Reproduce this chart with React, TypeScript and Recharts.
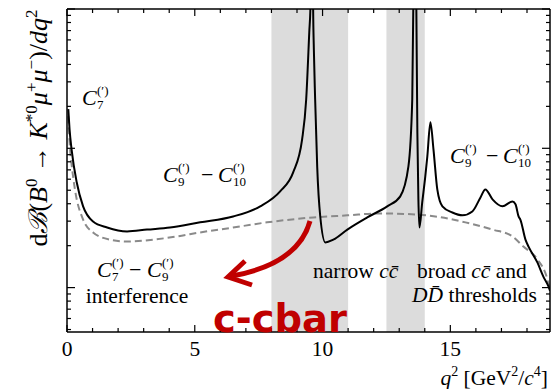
import { LineChart, Line, XAxis, YAxis, ReferenceArea } from "recharts";

// full prediction (solid black)
const totalQ2 = [
  0.05, 0.1, 0.18, 0.38, 0.63, 1.02, 1.57, 2.35, 3.13, 4.03, 5.21, 6.5, 7.56, 8.34, 8.85, 9.2, 9.36,
  9.48, 9.53, 9.58, 9.63, 9.66, 9.71, 9.79, 9.91, 10.11, 10.42, 10.97, 11.75, 12.53, 13.04, 13.36,
  13.51, 13.55, 13.61, 13.67, 13.71, 13.75, 13.79, 13.9, 14.02, 14.1, 14.22, 14.34, 14.49, 14.69,
  15.08, 15.47, 15.86, 16.18, 16.37, 16.65, 17.04, 17.43, 17.55, 17.67, 17.74, 17.94, 18.06, 18.41,
  18.64, 18.84, 18.9,
];
const totalRate = [
  19.1, 13.7, 9.8, 5.7, 3.83, 2.98, 2.7, 2.53, 2.61, 2.7, 2.94, 3.24, 3.83, 4.91, 6.72, 11.6, 22.5,
  68, 110, 50000, 110, 51, 22.5, 7.42, 3.24, 2.11, 2.21, 2.61, 3.19, 3.83, 4.52, 7.42,
  22.5, 100, 50000, 100, 13, 4.3, 2.7, 4.09, 6.29, 8.76, 15.4, 9.84, 5.07, 3.83,
  3.46, 3.3, 3.52, 4.44, 5.07, 4.3, 3.83, 4.15, 3.96, 3.24, 3.08, 2.21, 1.97, 1.51,
  1.2, 1.02, 0.95,
];

// short-distance only (dashed grey)
const sdQ2 = [
  0.05, 0.12, 0.18, 0.31, 0.63, 1.02, 1.68, 2.35, 3.37, 4.31, 5.21, 6.5, 7.83, 9.64, 10.97, 12.26,
  13.63, 14.41, 15.59, 16.65, 17.43, 17.86, 18.41, 18.8, 18.9,
];
const sdRate = [
  17, 9.8, 7.67, 5.07, 3.08, 2.49, 2.21, 2.14, 2.21, 2.33, 2.49, 2.7, 2.94, 3.19, 3.3, 3.41,
  3.35, 3.24, 2.94, 2.61, 2.33, 1.97, 1.59, 1.14, 0.95,
];

// shaded charmonium windows
const bands = [
  [8, 11],
  [12.5, 14],
];

const xTicks = Array.from({ length: 19 }, (_, i) => i);
const yTicks = [0.5, 0.6, 0.7, 0.8, 0.9, 1, 2, 3, 4, 5, 6, 7, 8, 9, 10, 20, 30, 40, 50, 60, 70, 80, 90, 100];

const SERIF = '"Liberation Serif", "Times New Roman", "DejaVu Serif", serif';
const RED = "#c00000";
const serif = { fontFamily: SERIF };

const totalData = totalQ2.map((q2, i) => ({ q2, rate: totalRate[i] }));
const sdData = sdQ2.map((q2, i) => ({ q2, rate: sdRate[i] }));

const isDecade = (v: number) => Math.abs(Math.log10(v) - Math.round(Math.log10(v))) < 1e-6;

const BottomTick = (props: any) => {
  const { x, y, payload } = props;
  const major = payload.value % 5 === 0;
  return (
    <g>
      <line x1={x} x2={x} y1={y} y2={y - (major ? 7 : 4)} stroke="#000" strokeWidth={1.2} />
      {major && (
        <text x={x} y={y + 24} textAnchor="middle" fontSize={21.5} style={serif} fill="#000">
          {payload.value}
        </text>
      )}
    </g>
  );
};

const TopTick = (props: any) => {
  const { x, y, payload } = props;
  const major = payload.value % 5 === 0;
  return <line x1={x} x2={x} y1={y} y2={y + (major ? 7 : 4)} stroke="#000" strokeWidth={1.2} />;
};

const LeftTick = (props: any) => {
  const { x, y, payload } = props;
  return <line x1={x} x2={x + (isDecade(payload.value) ? 8 : 4)} y1={y} y2={y} stroke="#000" strokeWidth={1.2} />;
};

const RightTick = (props: any) => {
  const { x, y, payload } = props;
  return <line x1={x} x2={x - (isDecade(payload.value) ? 8 : 4)} y1={y} y2={y} stroke="#000" strokeWidth={1.2} />;
};

// C^(') with stacked sub/superscript
const Coef = ({ x, y, sub }: { x: number; y: number; sub: string }) => (
  <g fill="#000" style={serif}>
    <text x={x} y={y} fontSize={22} fontStyle="italic">C</text>
    <text x={x + 15} y={y - 10} fontSize={13}>(′)</text>
    <text x={x + 15} y={y + 4} fontSize={13}>{sub}</text>
  </g>
);

const Minus = ({ x, y }: { x: number; y: number }) => (
  <text x={x} y={y} fontSize={22} style={serif}>−</text>
);

const Overlay = () => (
  <svg width={551} height={389} style={{ position: "absolute", left: 0, top: 0, pointerEvents: "none" }}>
    {/* y axis title */}
    <text transform="translate(47,128) rotate(-90)" textAnchor="middle" fontSize={26} style={serif} fill="#000">
      <tspan>d</tspan>
      <tspan fontStyle="italic">ℬ</tspan>
      <tspan>(</tspan>
      <tspan fontStyle="italic">B</tspan>
      <tspan fontSize={17} dy={-10}>0</tspan>
      <tspan dy={10}> → </tspan>
      <tspan fontStyle="italic">K</tspan>
      <tspan fontSize={17} dy={-10}>*0</tspan>
      <tspan fontStyle="italic" dy={10}>μ</tspan>
      <tspan fontSize={17} dy={-10}>+</tspan>
      <tspan fontStyle="italic" dy={10}>μ</tspan>
      <tspan fontSize={17} dy={-10}>−</tspan>
      <tspan dy={10}>)/</tspan>
      <tspan fontStyle="italic">dq</tspan>
      <tspan fontSize={17} dy={-10}>2</tspan>
    </text>

    {/* x axis title */}
    <text x={548} y={385} textAnchor="end" fontSize={21.5} style={serif} fill="#000">
      <tspan fontStyle="italic">q</tspan>
      <tspan fontSize={14} dy={-9}>2</tspan>
      <tspan dy={9}> [GeV</tspan>
      <tspan fontSize={14} dy={-9}>2</tspan>
      <tspan dy={9}>/</tspan>
      <tspan fontStyle="italic">c</tspan>
      <tspan fontSize={14} dy={-9}>4</tspan>
      <tspan dy={9}>]</tspan>
    </text>

    {/* coefficient annotations */}
    <Coef x={82} y={105} sub="7" />

    <Coef x={163} y={182} sub="9" />
    <Minus x={201} y={182} />
    <Coef x={218} y={182} sub="10" />

    <Coef x={450} y={163} sub="9" />
    <Minus x={486} y={163} />
    <Coef x={503} y={163} sub="10" />

    <Coef x={97} y={277} sub="7" />
    <Minus x={129} y={277} />
    <Coef x={147} y={277} sub="9" />
    <text x={137} y={303} textAnchor="middle" fontSize={21.5} style={serif}>interference</text>

    <text x={313} y={278} fontSize={21.5} style={serif}>
      narrow <tspan fontStyle="italic">cc̄</tspan>
    </text>
    <text x={417} y={278} fontSize={21.5} style={serif}>
      broad <tspan fontStyle="italic">cc̄</tspan> and
    </text>
    <text x={412} y={302} fontSize={21.5} style={serif}>
      <tspan fontStyle="italic">DD̄</tspan> thresholds
    </text>

    {/* red arrow + label */}
    <path d="M 310 221 C 302 250, 276 268, 232 276" fill="none" stroke={RED} strokeWidth={5} />
    <path d="M 245 261 L 228 277 L 252 285" fill="none" stroke={RED} strokeWidth={5} strokeLinejoin="miter" />
    <text
      x={213}
      y={332}
      fontSize={39}
      fontWeight="bold"
      style={{ fontFamily: '"DejaVu Sans", sans-serif' }}
      fill={RED}
      textLength={134}
      lengthAdjust="spacingAndGlyphs"
    >
      c-cbar
    </text>
  </svg>
);

export default function App() {
  return (
    <div style={{ position: "absolute", left: 0, top: 0, width: 551, height: 389, background: "#fff" }}>
      <LineChart width={551} height={389} margin={{ top: 0, right: 0, bottom: 0, left: 0 }}>
        <XAxis
          xAxisId="bottom"
          type="number"
          dataKey="q2"
          domain={[0, 18.9]}
          allowDataOverflow
          ticks={xTicks}
          interval={0}
          height={57}
          tickSize={0}
          tickMargin={0}
          tickLine={false}
          tick={BottomTick}
          axisLine={{ stroke: "#000", strokeWidth: 1.5 }}
        />
        <XAxis
          xAxisId="top"
          orientation="top"
          type="number"
          dataKey="q2"
          domain={[0, 18.9]}
          allowDataOverflow
          ticks={xTicks}
          interval={0}
          height={9}
          tickSize={0}
          tickMargin={0}
          tickLine={false}
          tick={TopTick}
          axisLine={{ stroke: "#000", strokeWidth: 1.5 }}
        />
        <YAxis
          yAxisId="left"
          type="number"
          scale="log"
          domain={[0.48, 100]}
          allowDataOverflow
          ticks={yTicks}
          interval={0}
          width={67}
          tickSize={0}
          tickMargin={0}
          tickLine={false}
          tick={LeftTick}
          axisLine={{ stroke: "#000", strokeWidth: 1.5 }}
        />
        <YAxis
          yAxisId="right"
          orientation="right"
          type="number"
          scale="log"
          domain={[0.48, 100]}
          allowDataOverflow
          ticks={yTicks}
          interval={0}
          width={1}
          tickSize={0}
          tickMargin={0}
          tickLine={false}
          tick={RightTick}
          axisLine={{ stroke: "#000", strokeWidth: 1.5 }}
        />
        {bands.map(([a, b]) => (
          <ReferenceArea
            key={a}
            xAxisId="bottom"
            yAxisId="left"
            x1={a}
            x2={b}
            fill="#dcdcdc"
            fillOpacity={1}
            stroke="none"
            ifOverflow="visible"
          />
        ))}
        <Line
          xAxisId="bottom"
          yAxisId="left"
          data={sdData}
          dataKey="rate"
          type="monotone"
          stroke="#8a8a8a"
          strokeWidth={2}
          strokeDasharray="7 4"
          dot={false}
          isAnimationActive={false}
        />
        <Line
          xAxisId="bottom"
          yAxisId="left"
          data={totalData}
          dataKey="rate"
          type="monotone"
          stroke="#000"
          strokeWidth={2}
          dot={false}
          isAnimationActive={false}
        />
      </LineChart>
      <Overlay />
    </div>
  );
}
